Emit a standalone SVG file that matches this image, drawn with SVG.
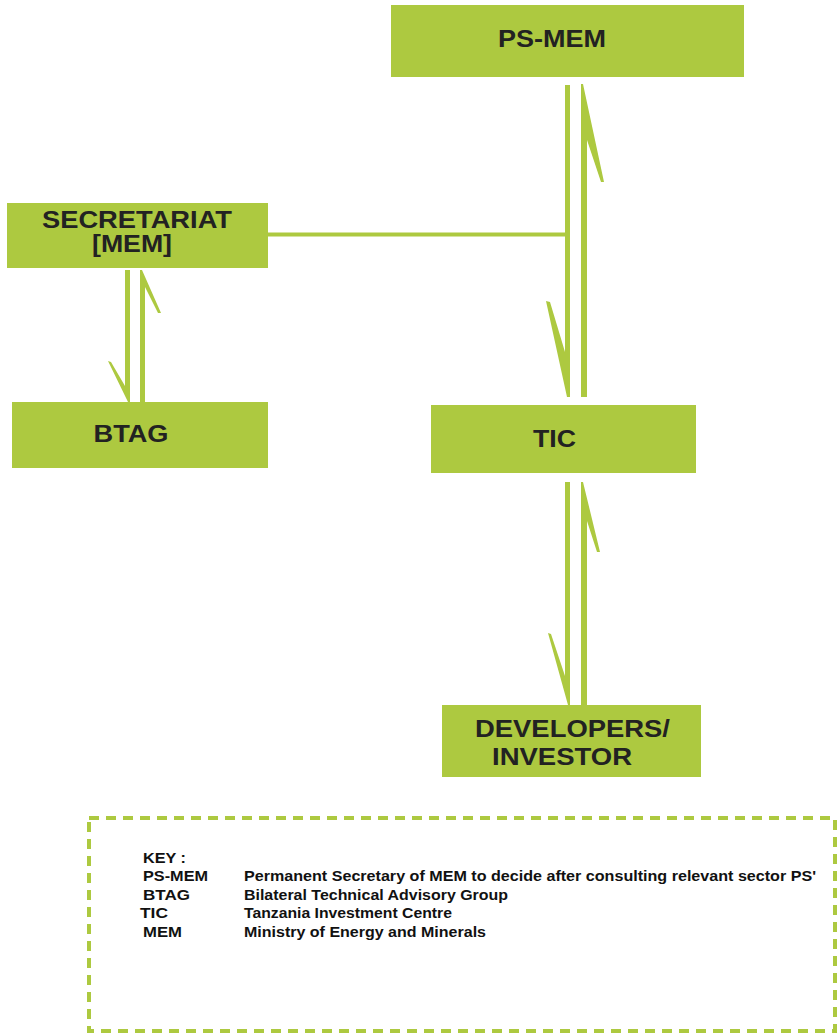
<svg xmlns="http://www.w3.org/2000/svg" width="838" height="1035" viewBox="0 0 838 1035">
<style>
.box{fill:#adc940}
.lbl{font-family:"Liberation Sans",Arial,sans-serif;font-weight:bold;font-size:23px;fill:#222;text-anchor:middle}
.conn{fill:#adc940;stroke:none}
.key{font-family:"Liberation Sans",Arial,sans-serif;font-weight:bold;font-size:15px;fill:#111}
</style>
<rect width="838" height="1035" fill="#fff"/>
<g id="ps-mem">
<rect class="box" x="391" y="5" width="353" height="72"/>
<text class="lbl" x="552" y="47" textLength="108" lengthAdjust="spacingAndGlyphs">PS-MEM</text>
</g>
<g id="secretariat">
<rect class="box" x="7" y="203" width="261" height="65"/>
<text class="lbl" x="137" y="228" textLength="190" lengthAdjust="spacingAndGlyphs">SECRETARIAT</text>
<text class="lbl" x="132" y="252" textLength="80" lengthAdjust="spacingAndGlyphs">[MEM]</text>
</g>
<g id="btag">
<rect class="box" x="12" y="402" width="256" height="66"/>
<text class="lbl" x="131" y="442" textLength="75" lengthAdjust="spacingAndGlyphs">BTAG</text>
</g>
<g id="tic">
<rect class="box" x="431" y="405" width="265" height="68"/>
<text class="lbl" x="554.5" y="447" textLength="43" lengthAdjust="spacingAndGlyphs">TIC</text>
</g>
<g id="developers">
<rect class="box" x="442" y="705" width="259" height="72"/>
<text class="lbl" x="572.5" y="737" textLength="195" lengthAdjust="spacingAndGlyphs">DEVELOPERS/</text>
<text class="lbl" x="562" y="765" textLength="140" lengthAdjust="spacingAndGlyphs">INVESTOR</text>
</g>
<g id="connectors">
<rect class="conn" x="268" y="232.5" width="299" height="4"/>
<polygon class="conn" points="565,85 570,85 570,397 567,397 546,301 550,302 565,352"/>
<polygon class="conn" points="581,84 583,84 604,182 601,182 587,140 587,397 581,397"/>
<polygon class="conn" points="125,270 130,270 130,402 128,402 108,361 111,362 125,386"/>
<polygon class="conn" points="140,402 140,270 142,270 161,313 158,313 145,287 145,402"/>
<polygon class="conn" points="565,482 570,482 570,705 568,705 548,633 551,634 565,676"/>
<polygon class="conn" points="581,705 581,482 583,482 600,552 597,552 587,521 587,705"/>
</g>
<g id="key">
<rect x="89" y="818" width="746" height="213" fill="none" stroke="#adc940" stroke-width="4" stroke-dasharray="10,7"/>
<text class="key" x="143" y="863" textLength="43" lengthAdjust="spacingAndGlyphs">KEY :</text>
<text class="key" x="143" y="881" textLength="65" lengthAdjust="spacingAndGlyphs">PS-MEM</text>
<text class="key" x="244" y="881" textLength="572" lengthAdjust="spacingAndGlyphs">Permanent Secretary of MEM to decide after consulting relevant sector PS'</text>
<text class="key" x="143" y="900" textLength="47" lengthAdjust="spacingAndGlyphs">BTAG</text>
<text class="key" x="244" y="900" textLength="264" lengthAdjust="spacingAndGlyphs">Bilateral Technical Advisory Group</text>
<text class="key" x="140" y="918" textLength="28" lengthAdjust="spacingAndGlyphs">TIC</text>
<text class="key" x="244" y="918" textLength="208" lengthAdjust="spacingAndGlyphs">Tanzania Investment Centre</text>
<text class="key" x="143" y="937" textLength="39" lengthAdjust="spacingAndGlyphs">MEM</text>
<text class="key" x="244" y="937" textLength="242" lengthAdjust="spacingAndGlyphs">Ministry of Energy and Minerals</text>
</g>
</svg>
